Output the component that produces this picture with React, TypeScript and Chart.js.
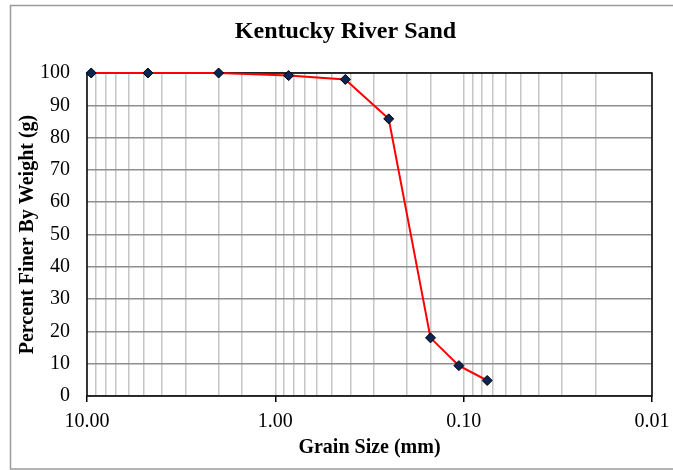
import React, { useEffect, useRef } from 'react';
import { Chart, registerables } from 'chart.js';

Chart.register(...registerables);

// ---- Data ----
const grainSizes = [9.5, 4.75, 2.0, 0.85, 0.425, 0.25, 0.15, 0.106, 0.075];
const percentFiner = [100, 100, 100, 99.2, 98.0, 85.8, 18.0, 9.4, 4.8];
const chartTitle = 'Kentucky River Sand';
const xAxisTitle = 'Grain Size (mm)';
const yAxisTitle = 'Percent Finer By Weight (g)';
const xMin = 0.01;
const xMax = 10;
const yMin = 0;
const yMax = 100;
const yStep = 10;

const FONT = "'Liberation Serif', 'Times New Roman', Times, serif";

const isMajor = (v: any) => {
  const n = Number(v);
  if (!(n > 0)) return false;
  const l = Math.log10(n);
  return Math.abs(l - Math.round(l)) < 1e-6;
};

const framePlugin = {
  id: 'frame',
  beforeDraw(chart: any) {
    const { ctx, width, height } = chart;
    ctx.save();
    ctx.fillStyle = '#ffffff';
    ctx.fillRect(0, 0, width, height);
    ctx.strokeStyle = '#9a9a9a';
    ctx.lineWidth = 1.5;
    ctx.strokeRect(10.5, 5.5, width + 20, height - 6.5);
    ctx.restore();
  },
};

const titlePlugin = {
  id: 'centeredTitle',
  afterDraw(chart: any) {
    const { ctx } = chart;
    ctx.save();
    ctx.fillStyle = '#000000';
    ctx.font = `bold 24px ${FONT}`;
    ctx.textAlign = 'center';
    ctx.textBaseline = 'middle';
    ctx.fillText(chartTitle, 345.5, 32);
    ctx.restore();
  },
};

const plotBorderPlugin = {
  id: 'plotBorder',
  beforeDatasetsDraw(chart: any) {
    const { ctx, chartArea } = chart;
    ctx.save();
    ctx.strokeStyle = '#000000';
    ctx.lineWidth = 1.5;
    ctx.strokeRect(chartArea.left, chartArea.top, chartArea.right - chartArea.left, chartArea.bottom - chartArea.top);
    ctx.restore();
  },
};

export default function App() {
  const canvasRef = useRef<HTMLCanvasElement | null>(null);

  useEffect(() => {
    if (!canvasRef.current) return;
    const points = grainSizes.map((x, i) => ({ x, y: percentFiner[i] }));
    const chart = new Chart(canvasRef.current, {
      type: 'scatter',
      data: {
        datasets: [
          {
            data: points,
            showLine: true,
            clip: false,
            borderColor: '#ff0000',
            borderWidth: 2,
            pointStyle: 'rectRot',
            pointRadius: 5,
            pointBackgroundColor: '#0b2556',
            pointBorderColor: '#000000',
            pointBorderWidth: 1,
          },
        ],
      },
      options: {
        animation: false,
        responsive: false,
        devicePixelRatio: 1,
        layout: { padding: { left: 0, right: 21, top: 73, bottom: 0 } },
        plugins: {
          legend: { display: false },
          tooltip: { enabled: false },
          title: { display: false },
        },
        scales: {
          x: {
            type: 'logarithmic',
            reverse: true,
            min: xMin,
            max: xMax,
            afterFit: (s: any) => {
              s.height = 74;
              s.paddingLeft = 0;
              s.paddingRight = 0;
            },
            border: { display: false },
            grid: {
              color: '#c6c6c6',
              lineWidth: 1.5,
              drawTicks: true,
              tickLength: 6,
              tickWidth: 1.5,
              tickColor: (ctx: any) => (ctx.tick && isMajor(ctx.tick.value) ? '#000000' : 'rgba(0,0,0,0)'),
            },
            ticks: {
              autoSkip: false,
              maxRotation: 0,
              minRotation: 0,
              padding: 8,
              color: '#000000',
              font: { family: FONT, size: 20 },
              callback: (v: any) => (isMajor(v) ? Number(v).toFixed(2) : ''),
            },
            title: {
              display: true,
              text: xAxisTitle,
              color: '#000000',
              font: { family: FONT, size: 20, weight: 'bold' },
              padding: { top: 0, bottom: 10 },
            },
          },
          y: {
            type: 'linear',
            min: yMin,
            max: yMax,
            afterFit: (s: any) => {
              s.width = 87;
            },
            border: { display: false },
            grid: {
              color: '#8e8e8e',
              lineWidth: 1.5,
              drawTicks: false,
            },
            ticks: {
              stepSize: yStep,
              padding: 17,
              color: '#000000',
              font: { family: FONT, size: 20 },
            },
            title: {
              display: true,
              text: yAxisTitle,
              color: '#000000',
              font: { family: FONT, size: 20, weight: 'bold' },
              padding: { top: 16, bottom: 0 },
            },
          },
        },
      },
      plugins: [framePlugin, plotBorderPlugin, titlePlugin],
    } as any);
    return () => chart.destroy();
  }, []);

  return (
    <div style={{ position: 'absolute', left: 0, top: 0, width: 673, height: 470 }}>
      <canvas ref={canvasRef} width={673} height={470} style={{ display: 'block' }} />
    </div>
  );
}
